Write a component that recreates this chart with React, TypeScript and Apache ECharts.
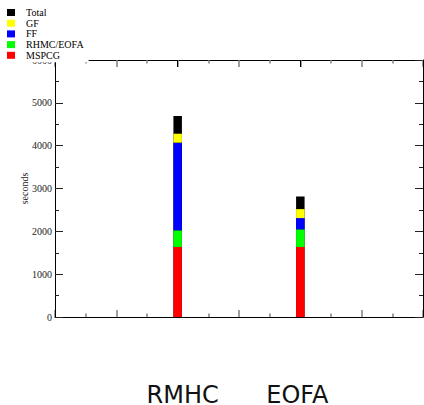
import React, { useEffect, useRef } from "react";
import * as echarts from "echarts";

const categories = ["RMHC", "EOFA"];
const positions = [2, 4];
const xSlots = ["0", "1", "2", "3", "4", "5", "6"];
const total = [4690, 2814];
const mspcg = [1635, 1635];
const rhmcEofa = [388, 412];
const ff = [2047, 262];
const gf = [209, 210];
const yTicks = [0, 1000, 2000, 3000, 4000, 5000, 6000];

const SERIF = "Liberation Serif";

function slotData(vals: number[]) {
  return xSlots.map((_, s) => {
    const i = positions.indexOf(s);
    return i < 0 ? "-" : vals[i];
  });
}

export default function App() {
  const ref = useRef<HTMLDivElement>(null);
  useEffect(() => {
    document.body.style.margin = "0";
    const chart = echarts.init(ref.current!, null, { renderer: "svg" });
    const grayTicks = (position: "top" | "bottom") => ({
      type: "value",
      position,
      offset: 0,
      min: 0,
      max: 6,
      interval: 1,
      axisLine: { show: true, onZero: false, lineStyle: { color: "#000", width: 1 } },
      axisTick: { show: true, inside: true, length: 7, lineStyle: { color: "#808080", width: 1.5 } },
      minorTick: { show: true, splitNumber: 2, length: 3.5, lineStyle: { color: "#808080", width: 1.5 } },
      axisLabel: { show: false },
      splitLine: { show: false },
    });
    const blackTicks = (position: "top" | "bottom", labels: boolean) => ({
      type: "value",
      position,
      offset: 0,
      min: 0,
      max: 6,
      interval: 2,
      axisLine: { show: false, onZero: false },
      axisTick: { show: true, inside: true, length: 7, lineStyle: { color: "#000", width: 1 } },
      splitLine: { show: false },
      axisLabel: labels
        ? {
            show: true,
            margin: 69,
            fontFamily: "DejaVu Sans",
            fontSize: 24,
            lineHeight: 18,
            color: "#111",
            showMinLabel: true,
            showMaxLabel: true,
            formatter: (v: number) => {
              const i = positions.indexOf(v);
              if (i < 0) return "";
              return i === 0 ? `{a|${categories[i]}}` : `{b|${categories[i]}}`;
            },
            rich: {
              a: { fontFamily: "DejaVu Sans", fontSize: 24, lineHeight: 18, color: "#111", padding: [0, 0, 0, 10] },
              b: { fontFamily: "DejaVu Sans", fontSize: 24, lineHeight: 18, color: "#111", padding: [0, 6, 0, 0] },
            },
          }
        : { show: false },
    });
    const yAx = (position: "left" | "right", labels: boolean) => ({
      type: "value",
      position,
      min: yTicks[0],
      max: yTicks[yTicks.length - 1],
      interval: yTicks[1] - yTicks[0],
      name: labels ? "seconds" : "",
      nameLocation: "middle",
      nameGap: 26,
      nameMoveOverlap: false,
      nameTextStyle: { fontFamily: SERIF, fontSize: 10, color: "#222" },
      axisLine: { show: true, onZero: false, lineStyle: { color: "#000", width: 1 } },
      axisTick: { show: true, inside: true, length: 8, lineStyle: { color: "#222", width: 1 } },
      minorTick: { show: true, splitNumber: 2, length: 4, lineStyle: { color: "#222", width: 1 } },
      splitLine: { show: false },
      axisLabel: labels
        ? { show: true, fontFamily: SERIF, fontSize: 10, color: "#222", margin: 3, formatter: (v: number) => String(v) }
        : { show: false },
    });
    const barBase = { type: "bar", barWidth: 8.5, barGap: "-100%", xAxisIndex: 0, yAxisIndex: 0 };
    chart.setOption({
      animation: false,
      backgroundColor: "#fff",
      grid: { left: 55, right: 1, top: 60, bottom: 88, containLabel: false, outerBoundsMode: "none" },
      legend: {
        orient: "vertical",
        left: 0,
        top: 0,
        padding: [7.5, 5, 2, 7],
        backgroundColor: "#fff",
        itemWidth: 8,
        itemHeight: 7,
        itemGap: 0.7,
        icon: "rect",
        selectedMode: false,
        data: ["Total", "GF", "FF", "RHMC/EOFA", "MSPCG"],
        textStyle: { fontFamily: SERIF, fontSize: 10, lineHeight: 10, color: "#000", padding: [0, 0, 0, 6] },
      },
      xAxis: [
        {
          type: "category",
          data: xSlots,
          boundaryGap: false,
          position: "bottom",
          show: false,
          axisLine: { onZero: false },
        },
        grayTicks("bottom"),
        grayTicks("top"),
        blackTicks("bottom", true),
        blackTicks("top", false),
      ],
      yAxis: [yAx("left", true), yAx("right", false)],
      series: [
        { ...barBase, name: "Total", stack: "total", data: slotData(total), itemStyle: { color: "#000000" } },
        { ...barBase, name: "MSPCG", stack: "parts", data: slotData(mspcg), itemStyle: { color: "#ff0000" } },
        { ...barBase, name: "RHMC/EOFA", stack: "parts", data: slotData(rhmcEofa), itemStyle: { color: "#00ff00" } },
        { ...barBase, name: "FF", stack: "parts", data: slotData(ff), itemStyle: { color: "#0000ff" } },
        { ...barBase, name: "GF", stack: "parts", data: slotData(gf), itemStyle: { color: "#ffff00" } },
      ],
    });
    return () => chart.dispose();
  }, []);
  return <div ref={ref} style={{ width: 424, height: 405, position: "absolute", left: 0, top: 0 }} />;
}
